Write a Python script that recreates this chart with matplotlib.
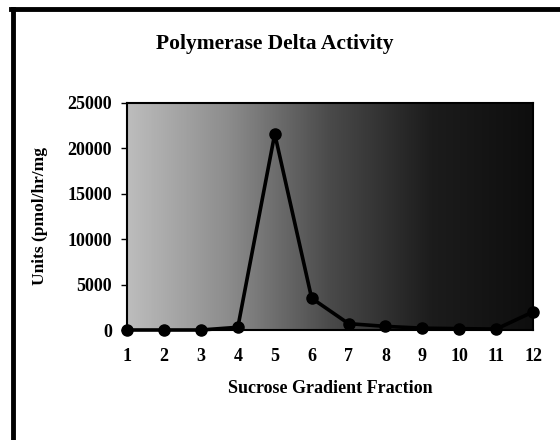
import numpy as np
import matplotlib.pyplot as plt
from matplotlib.lines import Line2D
from matplotlib.colors import LinearSegmentedColormap

fractions = [1, 2, 3, 4, 5, 6, 7, 8, 9, 10, 11, 12]
activity = [0, 0, 0, 300, 21600, 3500, 700, 400, 200, 150, 100, 2000]

plt.rcParams['font.family'] = ['Liberation Serif', 'DejaVu Serif']
plt.rcParams['font.weight'] = 'bold'

fig = plt.figure(figsize=(5.6, 4.4), dpi=100)
ax = fig.add_axes([0.227, 0.25, 0.725, 0.516])

# shaded background, light on the left and dark towards the right
shade = LinearSegmentedColormap.from_list('shade', ['#bdbdbd', '#8c8c8c', '#4a4a4a', '#1c1c1c', '#0e0e0e'])
grad = np.linspace(0, 1, 256).reshape(1, -1)
ax.imshow(grad, cmap=shade, aspect='auto', extent=[1, 12, 0, 25000], zorder=0)

ax.plot(fractions, activity, color='black', lw=2.6, marker='o', ms=8, zorder=3, clip_on=False)

ax.set_xlim(1, 12)
ax.set_ylim(0, 25000)
ax.set_xticks(fractions)
ax.set_yticks(range(0, 25001, 5000))
ax.tick_params(axis='y', labelsize=13, direction='out', length=4, width=1, pad=7)
ax.tick_params(axis='x', labelsize=13, length=0, pad=13)
for s in ax.spines.values():
    s.set_linewidth(1.5)

ax.set_xlabel('Sucrose Gradient Fraction', fontsize=13, fontweight='bold', labelpad=11)
ax.set_ylabel('Units (pmol/hr/mg', fontsize=12.5, fontweight='bold', labelpad=14)
fig.text(0.49, 0.9, 'Polymerase Delta Activity', ha='center', va='center',
         fontsize=15.5, fontweight='bold')

# page frame (left and top edges)
fig.add_artist(Line2D([13, 13], [0, 431], transform=None, color='black', lw=3.5))
fig.add_artist(Line2D([11, 560], [431, 431], transform=None, color='black', lw=3.5))

fig.savefig('out.png', dpi=100)
